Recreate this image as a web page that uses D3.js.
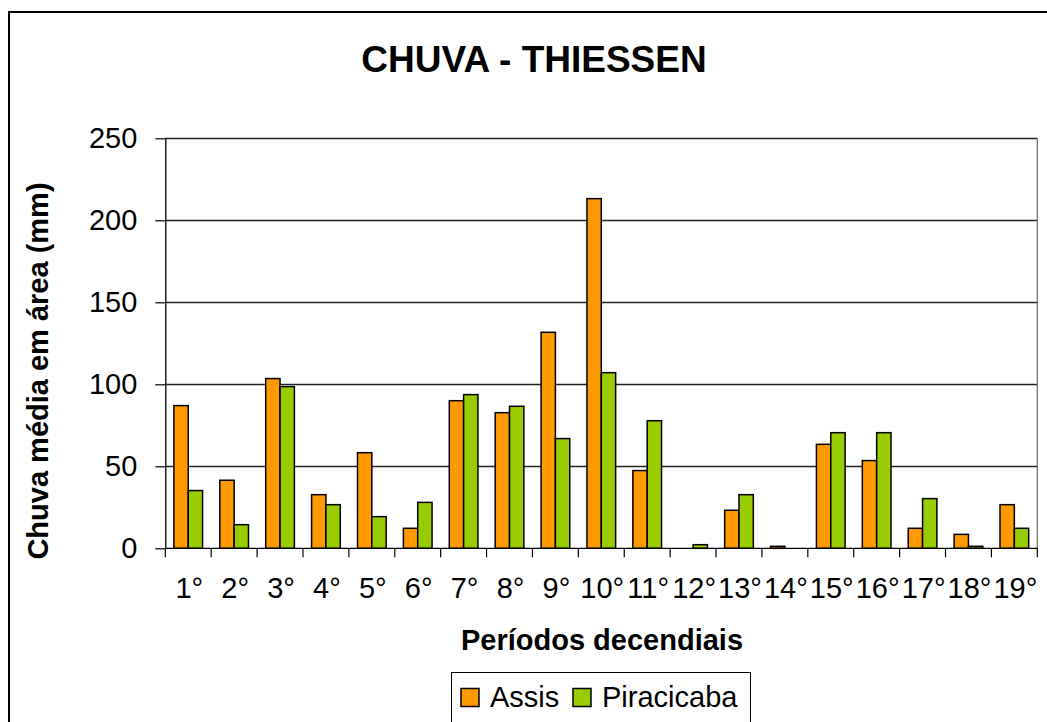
<!DOCTYPE html>
<html>
<head>
<meta charset="utf-8">
<script src="https://cdn.jsdelivr.net/npm/d3@7"></script>
<style>
  body { margin: 0; background: #fff; }
  svg { display: block; font-family: "Liberation Sans", Arial, sans-serif; }
</style>
</head>
<body>
<div id="chart"></div>
<script>
const periods = ['1°','2°','3°','4°','5°','6°','7°','8°','9°','10°','11°','12°','13°','14°','15°','16°','17°','18°','19°'];
const assis = [87, 41.5, 103.5, 32.7, 58.3, 12.2, 90, 82.7, 131.7, 213.2, 47.4, 0, 23.2, 1.2, 63.4, 53.5, 12.2, 8.5, 26.6];
const piracicaba = [35.2, 14.4, 98.6, 26.6, 19.3, 28, 93.7, 86.6, 66.9, 107.1, 77.8, 2.2, 32.7, 0, 70.5, 70.5, 30.3, 1.2, 12.2];
const seriesNames = ['Assis', 'Piracicaba'];
const yTicks = [0, 50, 100, 150, 200, 250];

const width = 1047, height = 722;
const plotLeft = 165.3, plotRight = 1037.3, plotTop = 138.3, plotBottom = 548.3;
const colors = ['#FF9900', '#99CC00'];

const svg = d3.select('#chart').append('svg').attr('width', width).attr('height', height);

// outer chart border (runs off the right and bottom edges)
svg.append('rect').attr('x', 9).attr('y', 12).attr('width', 1100).attr('height', 800)
  .attr('fill', 'none').attr('stroke', '#000').attr('stroke-width', 2);

const x = d3.scaleBand().domain(periods).range([plotLeft, plotRight]).paddingInner(0.375).paddingOuter(0.1875);
const xs = d3.scaleBand().domain(seriesNames).range([0, x.bandwidth()]);
const y = d3.scaleLinear().domain([0, 250]).range([plotBottom, plotTop]);
const step = x.step();

// grid
svg.append('g').selectAll('line').data(yTicks.filter(d => d > 0)).join('line')
  .attr('x1', plotLeft).attr('x2', plotRight)
  .attr('y1', d => Math.round(y(d)) + 0.5).attr('y2', d => Math.round(y(d)) + 0.5)
  .attr('stroke', '#222').attr('stroke-width', 1.3);

// right border of plot area
svg.append('line').attr('x1', plotRight).attr('x2', plotRight).attr('y1', plotTop).attr('y2', plotBottom)
  .attr('stroke', '#666').attr('stroke-width', 1.2);

// bars
const rows = periods.map((p, i) => ({ p, vals: [assis[i], piracicaba[i]] }));
const groups = svg.append('g').selectAll('g').data(rows).join('g')
  .attr('transform', d => `translate(${x(d.p)},0)`);
groups.selectAll('rect').data(d => d.vals.map((v, k) => ({ v, k })).filter(e => e.v > 0)).join('rect')
  .attr('x', d => xs(seriesNames[d.k]))
  .attr('width', xs.bandwidth())
  .attr('y', d => y(d.v))
  .attr('height', d => plotBottom - y(d.v))
  .attr('fill', d => colors[d.k])
  .attr('stroke', '#000').attr('stroke-width', 1.5);

// y axis
const yAxis = svg.append('g').attr('transform', `translate(${plotLeft},0)`)
  .call(d3.axisLeft(y).tickValues(yTicks).tickSize(10).tickPadding(18).tickSizeOuter(0));
yAxis.select('.domain').attr('stroke', '#000').attr('stroke-width', 1.3);
yAxis.selectAll('.tick line').attr('stroke', '#000').attr('stroke-width', 1.2);
yAxis.selectAll('.tick text').attr('font-size', 29).attr('fill', '#000')
  .attr('font-family', '"Liberation Sans", Arial, sans-serif');

// x axis baseline, ticks at category boundaries
svg.append('line').attr('x1', plotLeft).attr('x2', plotRight).attr('y1', plotBottom).attr('y2', plotBottom)
  .attr('stroke', '#000').attr('stroke-width', 1.3);
const bounds = periods.map(p => x(p) - step * 0.1875).concat([plotRight]);
svg.append('g').selectAll('line').data(bounds).join('line')
  .attr('x1', d => d).attr('x2', d => d).attr('y1', plotBottom).attr('y2', plotBottom + 9)
  .attr('stroke', '#000').attr('stroke-width', 1.2);
svg.append('g').selectAll('text').data(periods).join('text')
  .attr('x', d => x(d) + x.bandwidth() / 2 + 1).attr('y', 598)
  .attr('text-anchor', 'middle').attr('font-size', 29).text(d => d);

// titles
svg.append('text').attr('x', 534).attr('y', 72).attr('text-anchor', 'middle')
  .attr('font-size', 37).attr('font-weight', 'bold').text('CHUVA - THIESSEN');
svg.append('text').attr('x', 602).attr('y', 650).attr('text-anchor', 'middle')
  .attr('font-size', 29).attr('font-weight', 'bold').text('Períodos decendiais');
svg.append('text').attr('transform', 'translate(48,371) rotate(-90)').attr('text-anchor', 'middle')
  .attr('font-size', 29).attr('font-weight', 'bold').text('Chuva média em área (mm)');

// legend
const lg = svg.append('g');
lg.append('rect').attr('x', 451.5).attr('y', 672.5).attr('width', 299).attr('height', 80)
  .attr('fill', '#fff').attr('stroke', '#000').attr('stroke-width', 1);
const legendX = [461, 573];
seriesNames.forEach((name, k) => {
  lg.append('rect').attr('x', legendX[k]).attr('y', 688.5).attr('width', 18).attr('height', 18)
    .attr('fill', colors[k]).attr('stroke', '#000').attr('stroke-width', 1.5);
  lg.append('text').attr('x', legendX[k] + 29).attr('y', 706.5).attr('font-size', 29).text(name);
});
</script>
</body>
</html>
